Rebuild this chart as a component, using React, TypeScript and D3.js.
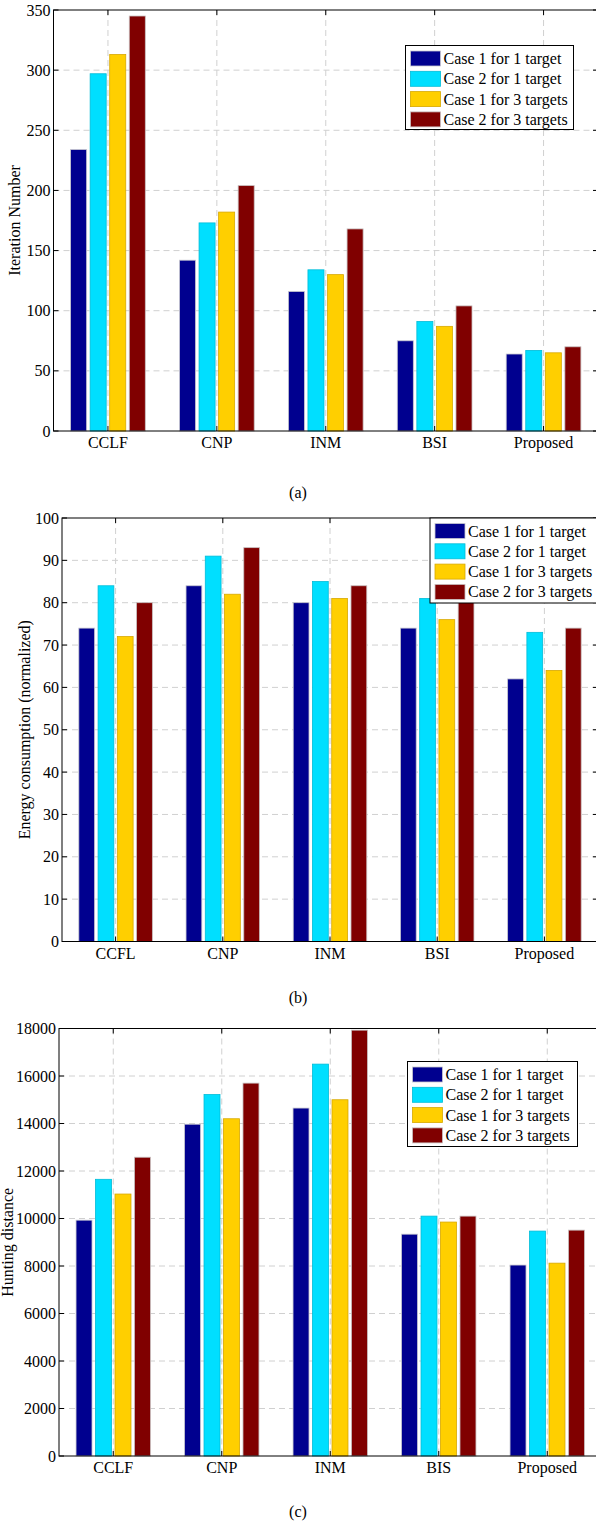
import React, { useEffect, useRef } from "react";
import * as d3 from "d3";

const caseNames = ["Case 1 for 1 target", "Case 2 for 1 target", "Case 1 for 3 targets", "Case 2 for 3 targets"];
const caseColors = ["#00008F", "#00DFFF", "#FFCF00", "#800000"];
const caseStrokes = ["#c8c8d0", "#00bcd8", "#d8a800", "#c8c0c0"];

// (a) iteration number
const catsA = ["CCLF", "CNP", "INM", "BSI", "Proposed"];
const iterCase1T1 = [234, 142, 116, 75, 64];
const iterCase2T1 = [297, 173, 134, 91, 67];
const iterCase1T3 = [313, 182, 130, 87, 65];
const iterCase2T3 = [345, 204, 168, 104, 70];
const ticksA = [0, 50, 100, 150, 200, 250, 300, 350];

// (b) energy consumption
const catsB = ["CCFL", "CNP", "INM", "BSI", "Proposed"];
const energyCase1T1 = [74, 84, 80, 74, 62];
const energyCase2T1 = [84, 91, 85, 81, 73];
const energyCase1T3 = [72, 82, 81, 76, 64];
const energyCase2T3 = [80, 93, 84, 82, 74];
const ticksB = [0, 10, 20, 30, 40, 50, 60, 70, 80, 90, 100];

// (c) hunting distance
const catsC = ["CCLF", "CNP", "INM", "BIS", "Proposed"];
const distCase1T1 = [9930, 13970, 14650, 9340, 8040];
const distCase2T1 = [11650, 15220, 16500, 10100, 9470];
const distCase1T3 = [11030, 14200, 15000, 9850, 8120];
const distCase2T3 = [12580, 15700, 17930, 10100, 9510];
const ticksC = [0, 2000, 4000, 6000, 8000, 10000, 12000, 14000, 16000, 18000];

const panels = [
  {
    cats: catsA, series: [iterCase1T1, iterCase2T1, iterCase1T3, iterCase2T3], ticks: ticksA,
    left: 53.5, right: 598, top: 10, bottom: 431, ylabel: "Iteration Number", ylabelX: 20,
    legend: { x: 405.5, y: 45.5, w: 168, h: 84 }, caption: "(a)", captionY: 498,
  },
  {
    cats: catsB, series: [energyCase1T1, energyCase2T1, energyCase1T3, energyCase2T3], ticks: ticksB,
    left: 62, right: 598, top: 518, bottom: 941.5, ylabel: "Energy consumption (normalized)", ylabelX: 30,
    legend: { x: 430, y: 518, w: 170, h: 85 }, caption: "(b)", captionY: 1003,
  },
  {
    cats: catsC, series: [distCase1T1, distCase2T1, distCase1T3, distCase2T3], ticks: ticksC,
    left: 59, right: 601.5, top: 1028.5, bottom: 1456, ylabel: "Hunting distance", ylabelX: 12.5,
    legend: { x: 407.5, y: 1061.5, w: 170, h: 85 }, caption: "(c)", captionY: 1517,
  },
];

export default function App() {
  const svgRef = useRef(null);

  useEffect(() => {
    const svg = d3.select(svgRef.current);
    svg.selectAll("*").remove();
    const font = "'Liberation Serif', 'Times New Roman', serif";

    panels.forEach(p => {
      const g = svg.append("g");
      const yMax = p.ticks[p.ticks.length - 1];
      const y = d3.scaleLinear().domain([0, yMax]).range([p.bottom, p.top]);
      const x = d3.scaleBand().domain(p.cats).range([p.left, p.right]).padding(0);
      const bw = x.bandwidth();
      const sub = d3.scaleBand().domain(d3.range(4)).range([-0.343 * bw, 0.343 * bw]).paddingInner(0.18);
      const cx = c => x(c) + bw / 2;

      // grid
      p.ticks.slice(1, -1).forEach(t => {
        g.append("line").attr("x1", p.left).attr("x2", p.right).attr("y1", y(t)).attr("y2", y(t))
          .attr("stroke", "#d0d0d0").attr("stroke-dasharray", "6,4");
      });
      p.cats.forEach(c => {
        g.append("line").attr("x1", cx(c)).attr("x2", cx(c)).attr("y1", p.top).attr("y2", p.bottom)
          .attr("stroke", "#d0d0d0").attr("stroke-dasharray", "6,4");
      });

      // bars
      p.series.forEach((vals, si) => {
        g.selectAll(null).data(vals).enter().append("rect")
          .attr("x", (d, i) => cx(p.cats[i]) + sub(si))
          .attr("width", sub.bandwidth())
          .attr("y", d => y(d))
          .attr("height", d => y(0) - y(d))
          .attr("fill", caseColors[si])
          .attr("stroke", caseStrokes[si])
          .attr("stroke-width", 0.8);
      });

      // axes box
      g.append("rect").attr("x", p.left).attr("y", p.top).attr("width", p.right - p.left)
        .attr("height", p.bottom - p.top).attr("fill", "none").attr("stroke", "#000").attr("stroke-width", 1);

      // ticks inward
      p.ticks.forEach(t => {
        g.append("line").attr("x1", p.left).attr("x2", p.left + 5).attr("y1", y(t)).attr("y2", y(t)).attr("stroke", "#000");
        g.append("line").attr("x1", p.right).attr("x2", p.right - 5).attr("y1", y(t)).attr("y2", y(t)).attr("stroke", "#000");
        g.append("text").attr("x", p.left - 3).attr("y", y(t) + 5.5).attr("text-anchor", "end")
          .style("font-family", font).style("font-size", "16px").text(t);
      });
      p.cats.forEach(c => {
        g.append("line").attr("x1", cx(c)).attr("x2", cx(c)).attr("y1", p.bottom).attr("y2", p.bottom - 5).attr("stroke", "#000");
        g.append("line").attr("x1", cx(c)).attr("x2", cx(c)).attr("y1", p.top).attr("y2", p.top + 5).attr("stroke", "#000");
        g.append("text").attr("x", cx(c)).attr("y", p.bottom + 17).attr("text-anchor", "middle")
          .style("font-family", font).style("font-size", "16px").text(c);
      });

      // y label
      g.append("text")
        .attr("transform", `translate(${p.ylabelX},${(p.top + p.bottom) / 2}) rotate(-90)`)
        .attr("text-anchor", "middle")
        .style("font-family", font).style("font-size", "16px").text(p.ylabel);

      // legend
      const L = p.legend;
      g.append("rect").attr("x", L.x).attr("y", L.y).attr("width", L.w).attr("height", L.h)
        .attr("fill", "#fff").attr("stroke", "#000");
      caseNames.forEach((n, i) => {
        const ry = L.y + 13 + i * 20.3;
        g.append("rect").attr("x", L.x + 5).attr("y", ry - 7.5).attr("width", 30).attr("height", 15)
          .attr("fill", caseColors[i]).attr("stroke", caseStrokes[i]).attr("stroke-width", 0.8);
        g.append("text").attr("x", L.x + 38).attr("y", ry + 5.5)
          .style("font-family", font).style("font-size", "16px").text(n);
      });

      // caption
      g.append("text").attr("x", 298).attr("y", p.captionY).attr("text-anchor", "middle")
        .style("font-family", font).style("font-size", "16px").text(p.caption);
    });
  }, []);

  return (
    <div>
      <style>{"body{margin:0}"}</style>
      <svg ref={svgRef} width={596} height={1523} style={{ display: "block", background: "#fff" }}></svg>
    </div>
  );
}
